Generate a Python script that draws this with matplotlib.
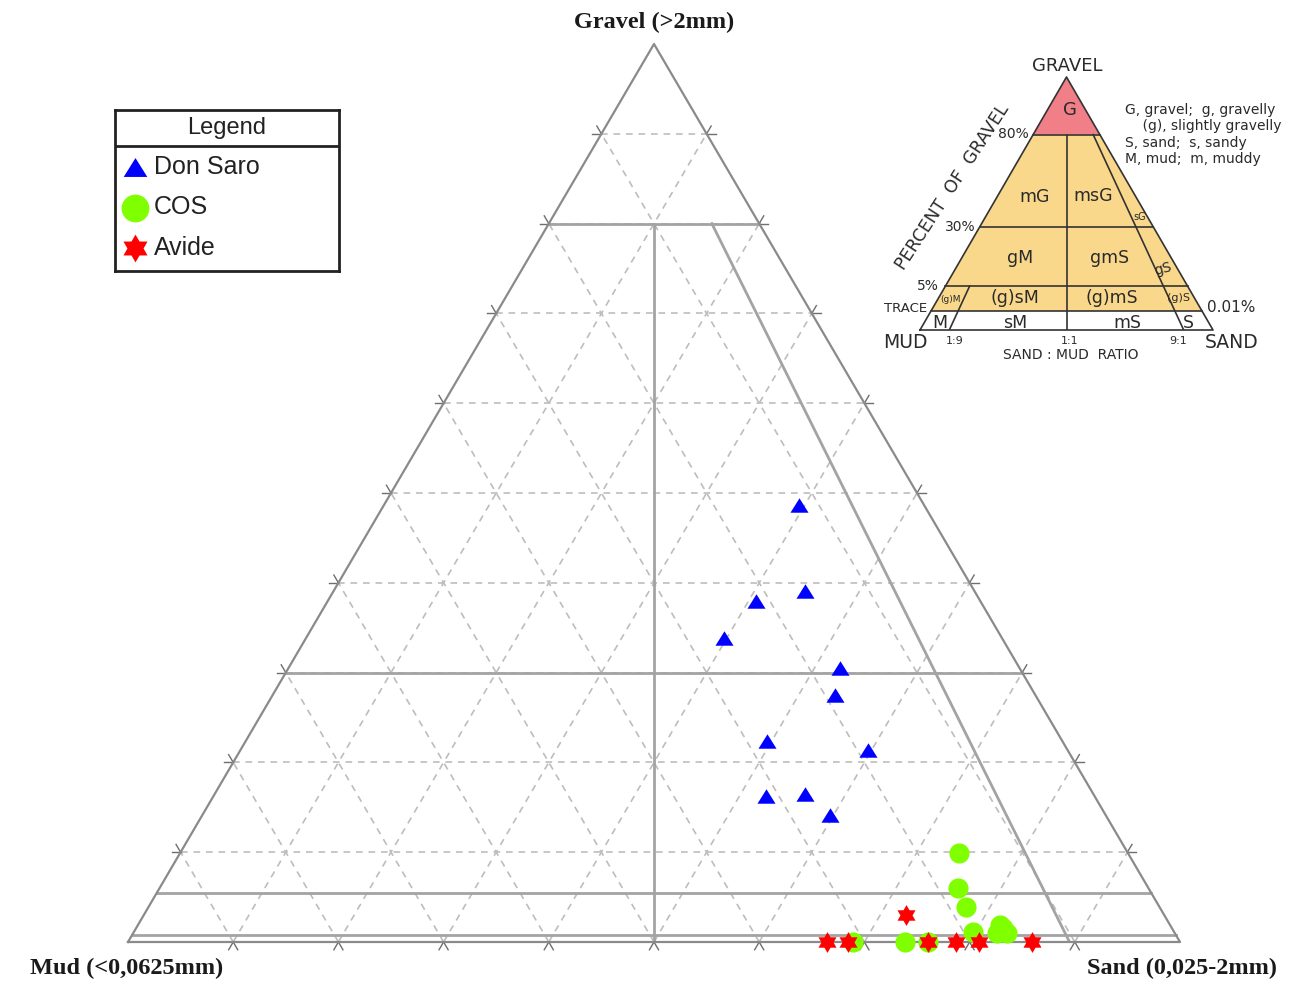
import numpy as np
import matplotlib.pyplot as plt
from matplotlib.path import Path
from matplotlib.patches import Polygon

W, H = 1292, 985

# sample fractions: gravel and sand (mud is the remainder)
don_saro_gravel = [0.487, 0.391, 0.380, 0.339, 0.305, 0.275, 0.224, 0.214, 0.163, 0.165, 0.141]
don_saro_sand = [0.394, 0.448, 0.407, 0.397, 0.524, 0.535, 0.495, 0.596, 0.525, 0.561, 0.597]

cos_gravel = [0.099, 0.060, 0.039, 0.011, 0.019, 0.010, 0.010, 0.016, 0.0, 0.0, 0.0]
cos_sand = [0.740, 0.759, 0.777, 0.798, 0.819, 0.821, 0.831, 0.824, 0.739, 0.760, 0.689]

avide_gravel = [0.0, 0.0, 0.030, 0.0, 0.0, 0.0, 0.0]
avide_sand = [0.664, 0.684, 0.725, 0.760, 0.787, 0.809, 0.859]

# Folk class limits drawn on the main triangle
gravel_limits = [0.80, 0.30, 0.055, 0.008]
ratio_line = [(0.80, 0.155), (0.0, 0.895)]  # (gravel, sand) end points

SOLID = '#a3a3a3'
DASH = '#bdbdbd'
EDGE = '#8a8a8a'

TRI_MARK = [(0, 0.8), (-1, -0.8), (1, -0.8)]
STAR_MARK = Path.unit_regular_star(6, 0.58)


def to_xy(gravel, sand):
    """ternary (gravel, sand) -> x, y inside the unit triangle box"""
    g = np.asarray(gravel, dtype=float)
    s = np.asarray(sand, dtype=float)
    return s + g / 2, g


def ptext(px, py, s, **kw):
    """place text using pixel positions on the figure"""
    kw.setdefault('ha', 'center')
    kw.setdefault('va', 'center')
    fig.text(px / W, 1 - py / H, s, **kw)


fig = plt.figure(figsize=(W / 100, H / 100), dpi=100)
fig.patch.set_facecolor('white')

# ---- main ternary diagram ----
ax = fig.add_axes([128 / W, (H - 942) / H, 1052 / W, 898 / H])
ax.set_xlim(0, 1)
ax.set_ylim(0, 1)
ax.axis('off')

sx, sy = 1052.0, 898.0  # pixels per unit along x and y


def extend(p0, p1, length=9):
    """short solid tick continuing the segment p0->p1 past p1"""
    dx, dy = (p1[0] - p0[0]) * sx, (p1[1] - p0[1]) * sy
    n = np.hypot(dx, dy)
    return [p1[0], p1[0] + dx / n * length / sx], [p1[1], p1[1] + dy / n * length / sy]


for k in range(1, 10):
    f = k / 10
    lines = [
        ((f / 2, f), (1 - f / 2, f)),                  # constant gravel
        ((f, 0), (f + (1 - f) / 2, 1 - f)),            # constant sand
        ((1 - f, 0), ((1 - f) / 2, 1 - f)),            # constant mud
    ]
    for a, b in lines:
        ax.plot([a[0], b[0]], [a[1], b[1]], color=DASH, lw=1.2,
                ls=(0, (4, 3.5)), zorder=1)
        for p, q in ((a, b), (b, a)):
            tx, ty = extend(p, q)
            ax.plot(tx, ty, color='#6e6e6e', lw=1.0, clip_on=False, zorder=2)

# class boundaries
for g in gravel_limits:
    ax.plot([g / 2, 1 - g / 2], [g, g], color=SOLID, lw=2, zorder=2)
ax.plot([0.5, 0.5], [0, gravel_limits[0]], color=SOLID, lw=2, zorder=2)
rx, ry = to_xy([p[0] for p in ratio_line], [p[1] for p in ratio_line])
ax.plot(rx, ry, color=SOLID, lw=2, zorder=2)

# outline
ax.plot([0, 1, 0.5, 0], [0, 0, 1, 0], color=EDGE, lw=1.6, clip_on=False, zorder=3)

x, y = to_xy(don_saro_gravel, don_saro_sand)
ax.plot(x, y, ls='none', marker=TRI_MARK, ms=13, color='#0000ff', mec='none',
        zorder=5)
x, y = to_xy(cos_gravel, cos_sand)
ax.plot(x, y, ls='none', marker='o', ms=14.5, color='#80ff00', mec='none',
        clip_on=False, zorder=5)
x, y = to_xy(avide_gravel, avide_sand)
ax.plot(x, y, ls='none', marker=STAR_MARK, ms=15, color='#ff0000', mec='none',
        clip_on=False, zorder=6)

serif = dict(family='Liberation Serif', fontweight='bold', fontsize=17.5,
             color='#1a1a1a')
ptext(654, 22, 'Gravel (>2mm)', **serif)
ptext(127, 968, 'Mud (<0,0625mm)', **serif)
ptext(1182, 968, 'Sand (0,025-2mm)', **serif)

# ---- legend box ----
lg = fig.add_axes([115 / W, (H - 271) / H, 224 / W, 161 / H])
lg.set_xlim(0, 224)
lg.set_ylim(161, 0)
lg.set_xticks([])
lg.set_yticks([])
for sp in lg.spines.values():
    sp.set_linewidth(2)
    sp.set_color('#222222')
lg.axhline(36, color='#222222', lw=2)
lg.text(112, 18, 'Legend', ha='center', va='center', fontsize=17,
        family='Liberation Sans', color='#222222')
entries = [('Don Saro', TRI_MARK, '#0000ff', 17),
           ('COS', 'o', '#80ff00', 20),
           ('Avide', STAR_MARK, '#ff0000', 20)]
for i, (name, mk, col, ms) in enumerate(entries):
    yy = 57 + 40.5 * i
    lg.plot([20], [yy], marker=mk, ms=ms, color=col, mec='none')
    lg.text(39, yy, name, ha='left', va='center', fontsize=18,
            family='Liberation Sans', color='#222222')

# ---- Folk classification inset ----
ins = fig.add_axes([920 / W, (H - 330) / H, 293 / W, 253 / H])
ins.set_xlim(0, 1)
ins.set_ylim(0, 1)
ins.axis('off')

v80, v30, v5, vtr = 0.772, 0.407, 0.174, 0.075
ins.add_patch(Polygon([(v80 / 2, v80), (1 - v80 / 2, v80), (0.5, 1)],
                      closed=True, fc='#f07f87', ec='none'))
ins.add_patch(Polygon([(vtr / 2, vtr), (1 - vtr / 2, vtr),
                       (1 - v80 / 2, v80), (v80 / 2, v80)],
                      closed=True, fc='#f9d88c', ec='none'))
ink = '#333333'
for v in (v80, v30, v5, vtr):
    ins.plot([v / 2, 1 - v / 2], [v, v], color=ink, lw=1.2, clip_on=False)
ins.plot([0.5, 0.5], [0, v80], color=ink, lw=1.2)
ins.plot([0.9, 0.9 - 0.4 * v80], [0, v80], color=ink, lw=1.2)
ins.plot([0.1, 0.1 + 0.4 * v5], [0, v5], color=ink, lw=1.2)
ins.plot([0, 1, 0.5, 0], [0, 0, 1, 0], color=ink, lw=1.2, clip_on=False)

sans = dict(family='DejaVu Sans', color='#2a2a2a')
ptext(1067, 66, 'GRAVEL', fontsize=13, **sans)
ptext(1070, 110, 'G', fontsize=13, **sans)
ptext(1013, 134, '80%', fontsize=10, **sans)
ptext(953, 187, 'PERCENT  OF  GRAVEL', fontsize=12.5, rotation=57, **sans)
ptext(1035, 197, 'mG', fontsize=12.5, **sans)
ptext(1093, 196, 'msG', fontsize=12.5, **sans)
ptext(1140, 217, 'sG', fontsize=7, **sans)
ptext(960, 227, '30%', fontsize=10, **sans)
ptext(1020, 258, 'gM', fontsize=12.5, **sans)
ptext(1110, 258, 'gmS', fontsize=12.5, **sans)
ptext(1163, 269, 'gS', fontsize=10, rotation=15, **sans)
ptext(928, 286, '5%', fontsize=10, **sans)
ptext(950, 299, '(g)M', fontsize=6.5, **sans)
ptext(1015, 298, '(g)sM', fontsize=12.5, **sans)
ptext(1112, 298, '(g)mS', fontsize=12.5, **sans)
ptext(1178, 298, '(g)S', fontsize=8, **sans)
ptext(927, 309, 'TRACE', fontsize=9.5, ha='right', **sans)
ptext(1207, 308, '0.01%', fontsize=11, ha='left', **sans)
ptext(940, 323, 'M', fontsize=12.5, **sans)
ptext(1015, 323, 'sM', fontsize=12.5, **sans)
ptext(1127, 323, 'mS', fontsize=12.5, **sans)
ptext(1188, 323, 'S', fontsize=12.5, **sans)
ptext(905, 343, 'MUD', fontsize=13.5, **sans)
ptext(1232, 343, 'SAND', fontsize=13.5, **sans)
ptext(955, 341, '1:9', fontsize=8, **sans)
ptext(1070, 341, '1:1', fontsize=8, **sans)
ptext(1178, 341, '9:1', fontsize=8, **sans)
ptext(1071, 355, 'SAND : MUD  RATIO', fontsize=10, **sans)

key = ['G, gravel;  g, gravelly', '    (g), slightly gravelly',
       'S, sand;  s, sandy', 'M, mud;  m, muddy']
for i, line in enumerate(key):
    ptext(1125, 110 + 16.3 * i, line, fontsize=10, ha='left', **sans)

fig.savefig('out.png', dpi=100)
